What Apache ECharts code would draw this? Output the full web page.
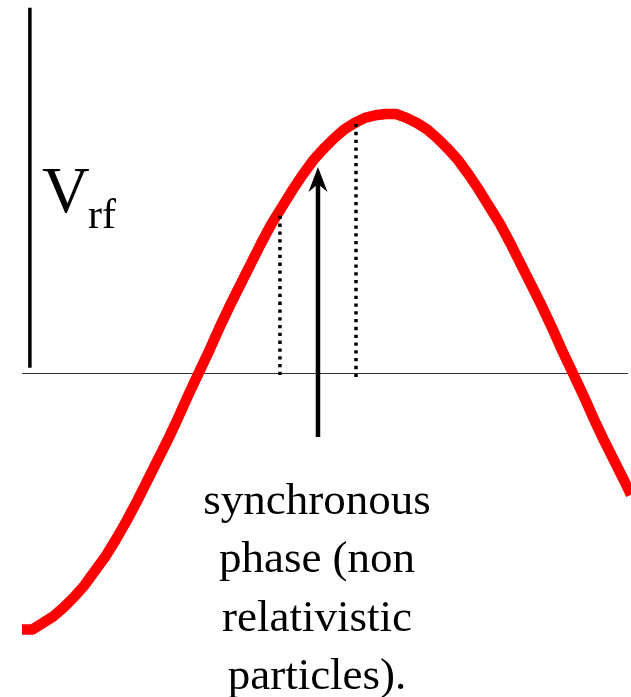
<!DOCTYPE html>
<html>
<head>
<meta charset="utf-8">
<script src="https://cdn.jsdelivr.net/npm/echarts@6/dist/echarts.min.js"></script>
<style>html,body{margin:0;padding:0;background:#fff;}#c{width:631px;height:697px;}</style>
</head>
<body>
<div id="c"></div>
<script>
// RF phase (degrees) and normalised voltage
var phase = [-85, -80, -75, -70, -65, -60, -55, -50, -45, -40, -35, -30, -25, -20, -15, -10, -5, 0, 5, 10, 15, 20, 25, 30, 35, 40, 45, 50, 55, 60, 65, 70, 75, 80, 85, 90, 95, 100, 105, 110, 115, 120, 125, 130, 135, 140, 145, 150, 155, 160, 165, 170, 175, 180, 185, 190, 195, 200, 205, 208];
var vrf = [-0.99, -0.99, -0.965, -0.94, -0.905, -0.865, -0.82, -0.765, -0.71, -0.645, -0.575, -0.5, -0.42, -0.34, -0.26, -0.175, -0.085, 0.0, 0.085, 0.175, 0.26, 0.34, 0.42, 0.5, 0.575, 0.64, 0.705, 0.765, 0.82, 0.865, 0.905, 0.94, 0.965, 0.985, 0.995, 1.0, 1.0, 0.985, 0.965, 0.94, 0.905, 0.865, 0.82, 0.765, 0.705, 0.64, 0.575, 0.5, 0.42, 0.34, 0.26, 0.175, 0.085, 0.0, -0.085, -0.175, -0.26, -0.34, -0.42, -0.47];

// annotation geometry in data units (phase, voltage)
var vAxisX = -81.2, vAxisTop = 1.41, vAxisBottom = 0.02;
var zeroLineX = [-85, 206.6], zeroLevel = -0.0018;
var boundLow = {x: 39.1, top: 0.622, bottom: -0.008};
var boundHigh = {x: 75.7, top: 0.969, bottom: -0.015};
var syncArrow = {x: 57.4, from: -0.247, to: 0.73, head: 0.747};
var labelMain = 'V', labelSub = 'rf';
var captionLines = ['synchronous', 'phase (non', 'relativistic', 'particles).'];

var curve = phase.map(function (p, i) { return [p, vrf[i]]; });

var chart = echarts.init(document.getElementById('c'), null, {renderer: 'canvas'});
var serif = '"Liberation Serif", "DejaVu Serif", serif';
var captionGraphics = captionLines.map(function (t, i) {
  return {
    type: 'text', x: 317, y: 502 + i * 58.4,
    style: {text: t, font: '45px ' + serif, fill: '#000', align: 'center', verticalAlign: 'middle'}
  };
});

chart.setOption({
  animation: false,
  backgroundColor: '#fff',
  grid: {left: 22, right: 0, top: 0, bottom: 39, containLabel: false},
  xAxis: {type: 'value', min: -85, max: 208, show: false},
  yAxis: {type: 'value', min: -1.1, max: 1.44, show: false},
  graphic: [
    {type: 'text', x: 42, y: 195, style: {text: labelMain, font: '66px ' + serif, fill: '#000', align: 'left', verticalAlign: 'middle'}},
    {type: 'text', x: 88, y: 217, style: {text: labelSub, font: '42px ' + serif, fill: '#000', align: 'left', verticalAlign: 'middle'}}
  ].concat(captionGraphics),
  series: [
    {
      type: 'line', data: [[zeroLineX[0], zeroLevel], [zeroLineX[1], zeroLevel]], symbol: 'none', silent: true,
      lineStyle: {color: '#333', width: 1}, z: 1
    },
    {
      type: 'line', data: [[vAxisX, vAxisBottom], [vAxisX, vAxisTop]], symbol: 'none', silent: true,
      lineStyle: {color: '#000', width: 3.5}, z: 2
    },
    {
      type: 'line', data: curve, symbol: 'none', smooth: false, silent: true,
      lineStyle: {color: '#ff0000', width: 10.5, join: 'round', cap: 'butt'}, z: 3
    },
    {
      type: 'line', data: [[boundLow.x, boundLow.bottom], [boundLow.x, boundLow.top]], symbol: 'none', silent: true,
      lineStyle: {color: '#000', width: 3.5, type: [3.3, 4.5]}, z: 4
    },
    {
      type: 'line', data: [[boundHigh.x, boundHigh.bottom], [boundHigh.x, boundHigh.top]], symbol: 'none', silent: true,
      lineStyle: {color: '#000', width: 3.5, type: [3.3, 4.5]}, z: 4
    },
    {
      type: 'line', data: [[syncArrow.x, syncArrow.from], [syncArrow.x, syncArrow.to]], symbol: 'none', silent: true,
      lineStyle: {color: '#000', width: 4.5}, z: 5
    },
    {
      type: 'scatter', data: [[syncArrow.x, syncArrow.head]], silent: true, z: 6,
      symbol: 'path://M9.5,0 L19,25 L9.5,17 L0,25 Z', symbolSize: [19, 25], symbolKeepAspect: false,
      itemStyle: {color: '#000', opacity: 1}
    }
  ]
});
</script>
</body>
</html>
